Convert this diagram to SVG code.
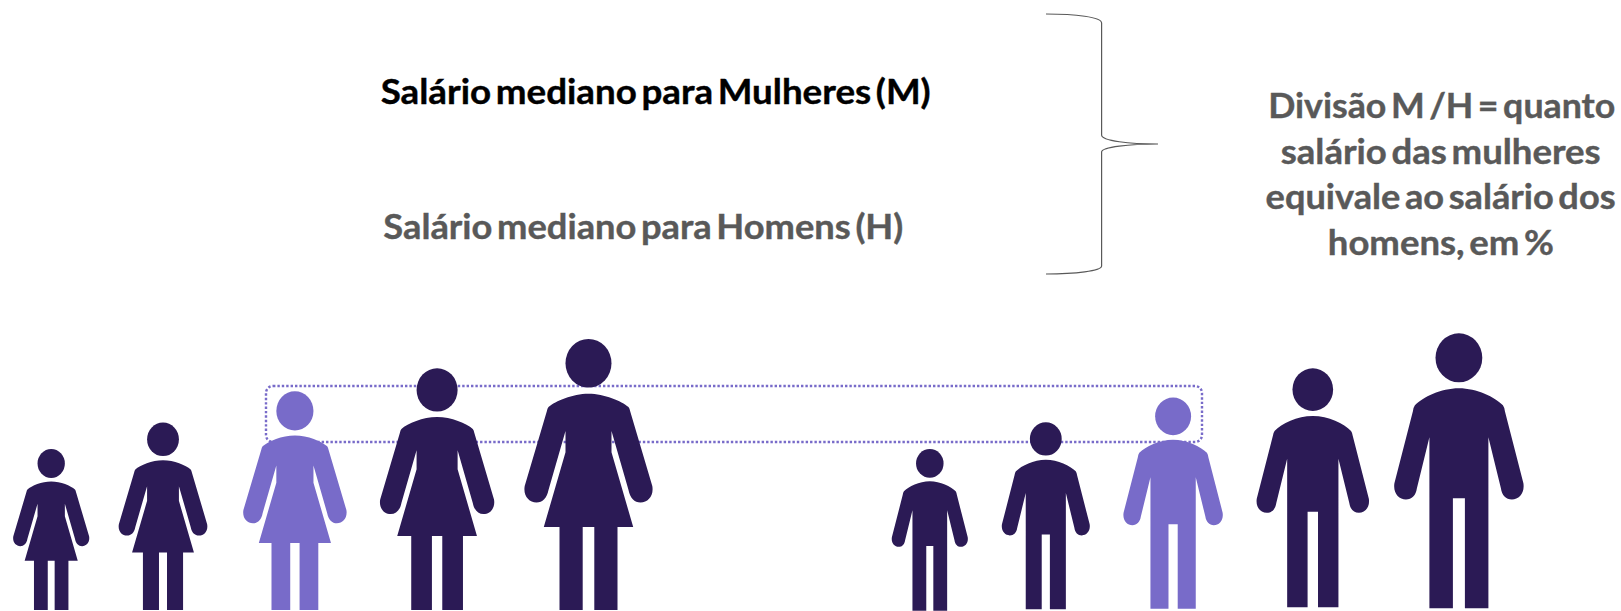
<svg xmlns="http://www.w3.org/2000/svg" xmlns:xlink="http://www.w3.org/1999/xlink" width="1621" height="611" viewBox="0 0 1621 611">
<style>
.t{font-family:"Lato","Open Sans","Liberation Sans",sans-serif;font-weight:700;font-size:34.5px;word-spacing:-4px;fill:#595959;stroke:#595959;stroke-width:.4px}
.k{fill:#000000;stroke:#000000}
.d{fill:#2B1A55}.l{fill:#786BC9}
</style>
<defs>
<g id="woman">
<ellipse cx="0" cy="-246.7" rx="23" ry="24.3"/>
<path d="M0 -216.3C16 -216.3 33 -209 40 -203Q41.2 -201.5 41.6 -199L63.8 -124C65.5 -114 59.5 -107.5 52 -107.5C46 -107.5 41.5 -112 40 -120L23 -179L23 -157.7L44.7 -83L29 -83L29 0L5.8 0L5.8 -83L-5.8 -83L-5.8 0L-29 0L-29 -83L-44.7 -83L-23 -157.7L-23 -179L-40 -120C-41.5 -112 -46 -107.5 -52 -107.5C-59.5 -107.5 -65.5 -114 -63.8 -124L-41.6 -199Q-41.2 -201.5 -40 -203C-33 -209 -16 -216.3 0 -216.3Z"/>
</g>
<g id="man">
<ellipse cx="0" cy="-250.5" rx="23.4" ry="24.5"/>
<path d="M0 -220C18 -220 36 -211 44 -203Q45.5 -201 46 -197L64.5 -125C66 -115 60 -108.7 53 -108.7C47 -108.7 43 -113 42 -120L29.5 -171L29.5 0L6 0L6 -110L-6 -110L-6 0L-29.5 0L-29.5 -171L-42 -120C-43 -113 -47 -108.7 -53 -108.7C-60 -108.7 -66 -115 -64.5 -125L-46 -197Q-45.5 -201 -44 -203C-36 -211 -18 -220 0 -220Z"/>
</g>
</defs>
<rect width="1621" height="611" fill="#FFFFFF"/>
<g id="connectors">
<rect id="highlight" x="266" y="386" width="936" height="56" rx="7" fill="none" stroke="#786BC9" stroke-width="2.4" stroke-dasharray="2.4 2"/>
<path id="brace" d="M1046 14C1075 14 1101.6 17 1101.6 23L1101.6 135C1101.6 141 1130 144 1158 144C1130 144 1101.6 147 1101.6 152L1101.6 266C1101.6 271 1075 274 1046 274" fill="none" stroke="#595959" stroke-width="1.2"/>
</g>
<g id="label-m"><text class="t k" x="380.7" y="103.5" textLength="550" lengthAdjust="spacingAndGlyphs">Salário mediano para Mulheres (M)</text></g>
<g id="label-h"><text class="t" x="383.3" y="239" textLength="520" lengthAdjust="spacingAndGlyphs">Salário mediano para Homens (H)</text></g>
<g id="label-division">
<text class="t" x="1268.2" y="118" textLength="347" lengthAdjust="spacingAndGlyphs">Divisão M /H = quanto</text>
<text class="t" x="1280.7" y="164" textLength="320" lengthAdjust="spacingAndGlyphs">salário das mulheres</text>
<text class="t" x="1265.6" y="209" textLength="350" lengthAdjust="spacingAndGlyphs">equivale ao salário dos</text>
<text class="t" x="1327.8" y="254.5" textLength="226" lengthAdjust="spacingAndGlyphs">homens, em %</text>
</g>
<g id="woman-1" class="d"><use xlink:href="#woman" href="#woman" transform="translate(51.2 610) scale(.594)"/></g>
<g id="woman-2" class="d"><use xlink:href="#woman" href="#woman" transform="translate(163 610) scale(.692)"/></g>
<g id="woman-3" class="l"><use xlink:href="#woman" href="#woman" transform="translate(294.9 610) scale(.807)"/></g>
<g id="woman-4" class="d"><use xlink:href="#woman" href="#woman" transform="translate(437.1 610) scale(.892)"/></g>
<g id="woman-5" class="d"><use xlink:href="#woman" href="#woman" transform="translate(588.5 610)"/></g>
<g id="man-1" class="d"><use xlink:href="#man" href="#man" transform="translate(929.8 610.7) scale(.588)"/></g>
<g id="man-2" class="d"><use xlink:href="#man" href="#man" transform="translate(1045.8 609.3) scale(.68)"/></g>
<g id="man-3" class="l"><use xlink:href="#man" href="#man" transform="translate(1173.1 608.7) scale(.768)"/></g>
<g id="man-4" class="d"><use xlink:href="#man" href="#man" transform="translate(1312.8 607.3) scale(.869)"/></g>
<g id="man-5" class="d"><use xlink:href="#man" href="#man" transform="translate(1458.9 608.3)"/></g>
</svg>
